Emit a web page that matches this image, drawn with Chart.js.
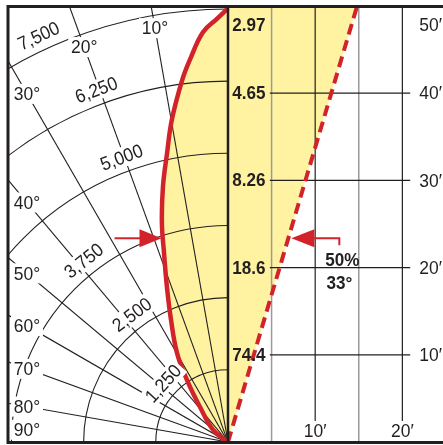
<!DOCTYPE html>
<html>
<head>
<meta charset="utf-8">
<script src="https://cdn.jsdelivr.net/npm/chart.js@4.4.1/dist/chart.umd.min.js"></script>
<style>
    html, body { margin: 0; padding: 0; background: #fff; }
    #wrap { width: 443px; height: 445px; }
</style>
</head>
<body>
<div id="wrap"><canvas id="beamChart" width="443" height="445"></canvas></div>
<script>
// candlepower curve, left half (degrees off beam axis -> candela)
const curveAngles = [0, 1.5, 3.5, 5.7, 7.2, 9.9, 11.9, 14.3, 16.8, 18.7, 21.5, 25.0, 29.8, 33.5, 38.7, 51, 90];
const curveCandela = [7510, 7330, 7110, 6650, 6320, 5660, 5115, 4560, 3960, 3455, 2885, 2335, 1775, 1285, 775, 330, 0];

const candelaTicks = [1250, 2500, 3750, 5000, 6250, 7500];
const candelaLabels = ['1,250', '2,500', '3,750', '5,000', '6,250', '7,500'];
const angleTicks = [10, 20, 30, 40, 50, 60, 70, 80, 90];

// illuminance cone, right half
const distances = [10, 20, 30, 40, 50];
const distanceLabels = ['10′', '20′', '30′', '40′', '50′'];
const footcandles = ['74.4', '18.6', '8.26', '4.65', '2.97'];
const widthTicks = [10, 20];
const widthLabels = ['10′', '20′'];
const halfWidthTicks = [5, 15];
const beamSpread = 33;
const beamPercent = 50;

const CD_PER_FT = 151;
const INK = '#231f20';
const RED = '#d2232a';
const YELLOW = '#fff3a1';
const FONT = '"Liberation Sans", Arial, sans-serif';

const rad = (d) => d * Math.PI / 180;
const polarPoint = (deg, cd) => ({ x: -cd * Math.sin(rad(deg)) / CD_PER_FT, y: cd * Math.cos(rad(deg)) / CD_PER_FT });

const curveData = curveAngles.map((a, i) => polarPoint(a, curveCandela[i]));
const halfTan = Math.tan(rad(beamSpread / 2));
const topDist = distances[distances.length - 1];
const beamData = [{ x: 0, y: 0 }, { x: topDist * halfTan, y: topDist }];
const coneData = [{ x: 0, y: 0 }, { x: topDist * halfTan, y: topDist }, { x: 0, y: topDist }];

// angle where the curve drops to beamPercent of peak
const halfCd = curveCandela[0] * beamPercent / 100;
let halfAngle = 0;
for (let i = 1; i < curveCandela.length; i++) {
    if (curveCandela[i] <= halfCd) {
        const t = (curveCandela[i - 1] - halfCd) / (curveCandela[i - 1] - curveCandela[i]);
        halfAngle = curveAngles[i - 1] + t * (curveAngles[i] - curveAngles[i - 1]);
        break;
    }
}

// narrow-ish text: the original uses a condensed face
function label(ctx, text, px, py, opts) {
    const o = Object.assign({ rot: 0, align: 'center', box: false, sx: 0.92 }, opts);
    ctx.save();
    ctx.translate(px, py);
    ctx.rotate(o.rot);
    ctx.scale(o.sx, 1);
    const w = ctx.measureText(text).width;
    ctx.textAlign = o.align;
    if (o.box) {
        const left = o.align === 'center' ? -w / 2 : (o.align === 'right' ? -w : 0);
        ctx.fillStyle = '#fff';
        ctx.fillRect(left - 3, -10, w + 6, 20);
    }
    ctx.fillStyle = INK;
    ctx.fillText(text, 0, 1);
    ctx.restore();
}

const beamGrid = {
    id: 'beamGrid',
    beforeDatasetsDraw(chart) {
        const { ctx, chartArea: area, scales: { x, y } } = chart;
        const ox = x.getPixelForValue(0), oy = y.getPixelForValue(0);
        const pxPerFt = x.getPixelForValue(1) - ox;

        ctx.save();
        ctx.beginPath();
        ctx.rect(area.left, area.top, ox - area.left, area.bottom - area.top);
        ctx.clip();
        ctx.strokeStyle = INK;
        ctx.lineWidth = 1.1;
        candelaTicks.forEach(cd => {
            ctx.beginPath();
            ctx.arc(ox, oy, cd / CD_PER_FT * pxPerFt, Math.PI, 1.5 * Math.PI);
            ctx.stroke();
        });
        angleTicks.forEach(deg => {
            ctx.beginPath();
            ctx.moveTo(ox, oy);
            ctx.lineTo(ox - 800 * Math.sin(rad(deg)), oy - 800 * Math.cos(rad(deg)));
            ctx.stroke();
        });
        ctx.restore();

        ctx.save();
        ctx.strokeStyle = '#9a9a9a';
        ctx.lineWidth = 1.5;
        halfWidthTicks.forEach(w => {
            const px = x.getPixelForValue(w);
            ctx.beginPath(); ctx.moveTo(px, y.getPixelForValue(0)); ctx.lineTo(px, y.getPixelForValue(topDist)); ctx.stroke();
        });
        ctx.strokeStyle = INK;
        ctx.lineWidth = 1.2;
        widthTicks.forEach(w => {
            const px = x.getPixelForValue(w);
            ctx.beginPath(); ctx.moveTo(px, y.getPixelForValue(0)); ctx.lineTo(px, y.getPixelForValue(topDist)); ctx.stroke();
        });
        distances.slice(0, -1).forEach(d => {
            const py = y.getPixelForValue(d);
            ctx.beginPath(); ctx.moveTo(x.getPixelForValue(4.8), py); ctx.lineTo(x.getPixelForValue(20.9), py); ctx.stroke();
        });
        ctx.restore();
    },
    afterDatasetsDraw(chart) {
        const { ctx, chartArea: area, scales: { x, y } } = chart;
        const ox = x.getPixelForValue(0), oy = y.getPixelForValue(0);
        const pxPerFt = x.getPixelForValue(1) - ox;

        ctx.save();
        ctx.textBaseline = 'middle';
        ctx.font = '19px ' + FONT;

        // candela labels along the arcs
        const cdLabelAngles = [48, 37, 38.5, 20.5, 20.5, 25];
        candelaTicks.forEach((cd, i) => {
            const a = rad(cdLabelAngles[i]);
            const r = cd / CD_PER_FT * pxPerFt + 15;
            label(ctx, candelaLabels[i], ox - r * Math.sin(a), oy - r * Math.cos(a), { rot: -a, box: true });
        });

        // angle labels
        const edgeX = x.getPixelForValue(-23.05);
        angleTicks.forEach(deg => {
            const a = rad(deg);
            let px, py;
            if (deg <= 20) {
                const r = 48.2 * pxPerFt;
                px = ox - r * Math.sin(a); py = oy - r * Math.cos(a);
            } else if (deg === 90) {
                px = edgeX; py = y.getPixelForValue(1.4);
            } else {
                px = edgeX; py = oy - (ox - edgeX) / Math.tan(a);
            }
            label(ctx, deg + '°', px, py, { box: true });
        });

        // bottom width labels
        widthTicks.forEach((w, i) => label(ctx, widthLabels[i], x.getPixelForValue(w), oy - 11, { box: true }));

        // distance labels at the right edge
        distances.forEach((d, i) => {
            const py = y.getPixelForValue(d) + (d === topDist ? 19 : 0);
            label(ctx, distanceLabels[i], area.right - 1, py, { align: 'right', box: true });
        });

        // footcandle values
        ctx.font = 'bold 18px ' + FONT;
        distances.forEach((d, i) => {
            const py = y.getPixelForValue(d) + (d === topDist ? 19 : 0);
            label(ctx, footcandles[i], x.getPixelForValue(0.5), py, { align: 'left', sx: 0.95 });
        });

        // 50% arrows
        const hp = polarPoint(halfAngle, halfCd);
        const ay = y.getPixelForValue(hp.y) + 3;
        const lt = x.getPixelForValue(hp.x) - 1;
        ctx.fillStyle = RED;
        ctx.strokeStyle = RED;
        ctx.lineWidth = 2;
        ctx.beginPath(); ctx.moveTo(lt - 47, ay); ctx.lineTo(lt - 20, ay); ctx.stroke();
        ctx.beginPath(); ctx.moveTo(lt, ay); ctx.lineTo(lt - 22, ay - 9); ctx.lineTo(lt - 22, ay + 9); ctx.closePath(); ctx.fill();

        const rt = x.getPixelForValue(y.getValueForPixel(ay) * halfTan) + 3;
        ctx.beginPath(); ctx.moveTo(rt, ay); ctx.lineTo(rt + 23, ay - 9); ctx.lineTo(rt + 23, ay + 9); ctx.closePath(); ctx.fill();
        ctx.beginPath(); ctx.moveTo(rt + 20, ay); ctx.lineTo(rt + 48, ay); ctx.lineTo(rt + 48, ay + 7); ctx.stroke();

        label(ctx, beamPercent + '%', rt + 51, ay + 22, { sx: 0.95 });
        label(ctx, beamSpread + '°', rt + 48, ay + 45, { sx: 0.95 });

        // frame and divider
        ctx.strokeStyle = INK;
        ctx.lineWidth = 3;
        ctx.beginPath();
        ctx.moveTo(area.right, area.top + 0.5);
        ctx.lineTo(area.left, area.top + 0.5);
        ctx.lineTo(area.left, area.bottom + 0.5);
        ctx.lineTo(area.right, area.bottom + 0.5);
        ctx.stroke();
        ctx.lineWidth = 2.5;
        ctx.beginPath(); ctx.moveTo(ox, area.top); ctx.lineTo(ox, area.bottom); ctx.stroke();
        ctx.restore();
    }
};

new Chart(document.getElementById('beamChart').getContext('2d'), {
    type: 'line',
    data: {
        datasets: [
            {
                label: 'Candela',
                data: curveData,
                borderColor: RED,
                borderWidth: 4.5,
                backgroundColor: YELLOW,
                fill: 'shape',
                tension: 0.4,
                borderJoinStyle: 'round'
            },
            {
                label: 'Beam edge',
                data: beamData,
                borderColor: RED,
                borderWidth: 4,
                borderDash: [11, 6],
                fill: false
            },
            {
                label: 'Cone',
                data: coneData,
                borderWidth: 0,
                borderColor: 'rgba(0,0,0,0)',
                backgroundColor: YELLOW,
                fill: 'shape'
            }
        ]
    },
    options: {
        responsive: false,
        animation: false,
        layout: { padding: { left: 8, top: 6, right: 0, bottom: 3 } },
        elements: { point: { radius: 0, hoverRadius: 0 } },
        scales: {
            x: { type: 'linear', min: -25.23, max: 24.66, display: false },
            y: { type: 'linear', min: 0, max: 50, display: false }
        },
        plugins: {
            legend: { display: false },
            tooltip: { enabled: false },
            filler: { drawTime: 'beforeDatasetsDraw' }
        }
    },
    plugins: [beamGrid]
});
</script>
</body>
</html>
